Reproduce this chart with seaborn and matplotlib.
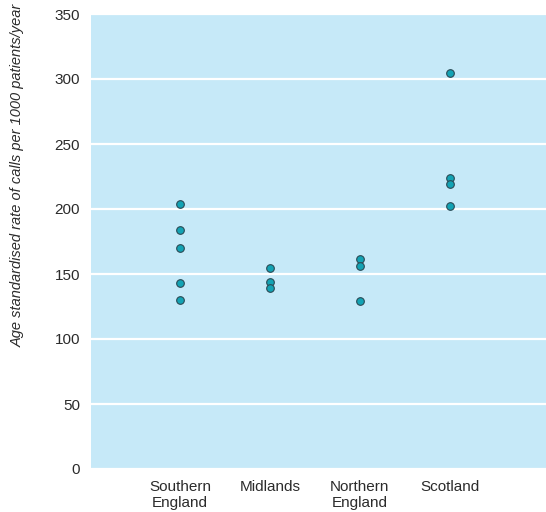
import matplotlib.pyplot as plt
import pandas as pd
import seaborn as sns

regions = ["Southern\nEngland", "Midlands", "Northern\nEngland", "Scotland"]
southern = [204, 184, 170, 143, 130]
midlands = [155, 144, 139]
northern = [161.5, 156, 129]
scotland = [305, 224, 219, 202.5]

df = pd.DataFrame({
    "region": [regions[0]] * len(southern) + [regions[1]] * len(midlands)
              + [regions[2]] * len(northern) + [regions[3]] * len(scotland),
    "rate": southern + midlands + northern + scotland,
})

sns.set_style("white")
plt.rcParams['font.family'] = ['Liberation Sans', 'DejaVu Sans']

fig = plt.figure(figsize=(5.46, 5.12), dpi=100)
ax = fig.add_axes([91 / 546, 1 - 469 / 512, 1 - 91 / 546, 455 / 512])
ax.set_facecolor("#c6e9f8")

sns.stripplot(data=df, x="region", y="rate", order=regions, jitter=False,
              color="#13a3b4", edgecolor="#2a4a55", linewidth=0.8, size=5.5,
              ax=ax, zorder=3)

ax.set_ylim(0, 350)
ax.set_yticks(range(0, 351, 50))
ax.set_xlim(-0.99, 4.07)
ax.yaxis.grid(True, color="white", linewidth=1.6)
ax.set_axisbelow(True)
for s in ax.spines.values():
    s.set_visible(False)

ax.tick_params(axis="y", length=0, labelsize=11, labelcolor="#2b2b2b", pad=8)
ax.tick_params(axis="x", direction="in", length=5, width=1.2, color="white",
               labelsize=11, labelcolor="#2b2b2b", pad=8)
ax.set_xlabel("")
ax.set_ylabel("Age standardised rate of calls per 1000 patients/year",
              fontsize=10.5, style="italic", color="#2b2b2b")
ax.yaxis.set_label_coords(-0.145, 0.645)

fig.savefig("out.png", dpi=100)
